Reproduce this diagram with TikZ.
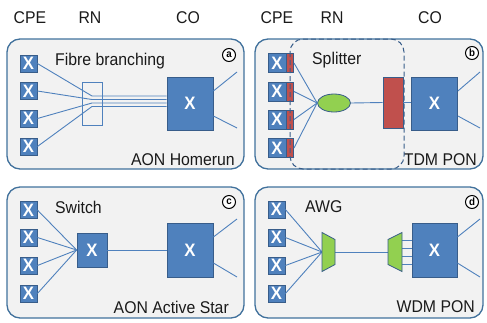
\documentclass[tikz,border=0pt]{standalone}
\usepackage{fontspec}
\setmainfont{Liberation Sans}[FakeStretch=0.93]
\usetikzlibrary{shapes.geometric}
\definecolor{panelbg}{HTML}{F2F2F2}
\definecolor{panelline}{HTML}{41719C}
\definecolor{boxblue}{HTML}{4F81BD}
\definecolor{boxline}{HTML}{385D8A}
\definecolor{redbox}{HTML}{C0504D}
\definecolor{greenfill}{HTML}{92D050}
\definecolor{txt}{HTML}{1A1A1A}
\tikzset{
  panel/.style={draw=panelline, fill=panelbg, line width=1.3pt, rounded corners=13pt},
  cpe/.style={draw=boxline, fill=boxblue, minimum width=17pt, minimum height=17pt, inner sep=0pt,
    text=white, font=\bfseries\fontsize{18}{18}\selectfont, line width=0.8pt},
  cpeb/.style={cpe, minimum width=18pt, minimum height=19pt},
  redsmall/.style={draw=boxline, fill=redbox, minimum width=7pt, minimum height=19pt, inner sep=0pt, line width=0.6pt},
  cobox/.style={cpe, minimum width=46pt, minimum height=53pt},
  link/.style={draw=boxblue, line width=0.9pt},
  lbl/.style={font=\fontsize{17}{20}\selectfont, text=txt, inner sep=0pt},
  tag/.style={circle, draw=black, line width=1pt, fill=white, minimum size=13pt, inner sep=0pt,
    font=\bfseries\fontsize{10.5}{10.5}\selectfont},
  greenshape/.style={draw=boxline, fill=greenfill, line width=0.8pt}
}
\begin{document}
\begin{tikzpicture}[x=1pt,y=-1pt]
\useasboundingbox (0,0) rectangle (487,322);
% headers
\node[lbl] (hcpe1) at (30,18) {CPE};
\node[lbl] (hrn1) at (90,18) {RN};
\node[lbl] (hco1) at (188,18) {CO};
\node[lbl] (hcpe2) at (277,18) {CPE};
\node[lbl] (hrn2) at (332,18) {RN};
\node[lbl] (hco2) at (430,18) {CO};
% panels
\draw[panel] (7,39) rectangle (244,169);
\draw[panel] (255,39) rectangle (483,169);
\draw[panel] (7,187) rectangle (244,318);
\draw[panel] (255,187) rectangle (483,318);

% ---------- panel a ----------
\node[cpe] (a1) at (28.5,63.5) {X};
\node[cpe] (a2) at (28.5,91) {X};
\node[cpe] (a3) at (28.5,118.5) {X};
\node[cpe] (a4) at (28.5,146.5) {X};
\node[draw=boxblue, line width=0.8pt, minimum width=20pt, minimum height=43pt, inner sep=0pt] (fb) at (92,103.5) {};
\node[cobox] (aco) at (190,103.5) {X};
\coordinate (f1) at (92,96);
\coordinate (f2) at (92,99.5);
\coordinate (f3) at (92,103);
\coordinate (f4) at (92,106.5);
\foreach \i in {1,...,4}{\draw[link] (a\i.east) -- (f\i) -- (f\i -| aco.west);}
\coordinate (ao1) at (237,72);
\coordinate (ao2) at (237,128);
\draw[link] ([yshift=12.5pt]aco.east) -- (ao1);
\draw[link] ([yshift=-12.5pt]aco.east) -- (ao2);
\node[lbl, anchor=west] (fbt) at (55,61) {Fibre branching};
\node[lbl, anchor=east] (aont) at (235,160) {AON Homerun};
\node[tag] (ta) at (229,55) {a};

% ---------- panel b ----------
\foreach \i/\y in {1/63, 2/91.5, 3/119.5, 4/148}{
  \node[cpeb] (b\i) at (277,\y) {X};
  \node[redsmall, anchor=west] (br\i) at (b\i.east) {};
}
\node[ellipse, draw=boxline, fill=greenfill, line width=0.8pt, minimum width=33pt, minimum height=18pt, inner sep=0pt] (spl) at (334,103) {};
\foreach \i in {1,...,4}{\draw[link] (br\i.east) -- (spl.west);}
\node[draw=boxline, fill=redbox, line width=0.8pt, minimum width=20pt, minimum height=51pt, inner sep=0pt] (bolt) at (393,102.5) {};
\node[cobox] (bco) at (434.5,103.5) {X};
\draw[link] (spl.east) -- (bolt.west);
\draw[link] (bolt.east) -- (bolt.east -| bco.west);
\coordinate (bo1) at (480,72);
\coordinate (bo2) at (480,128);
\draw[link] ([yshift=12.5pt]bco.east) -- (bo1);
\draw[link] ([yshift=-12.5pt]bco.east) -- (bo2);
\node[lbl, anchor=west] (splt) at (312,60) {Splitter};
\node[lbl, anchor=east] (tdmt) at (477,160) {TDM PON};
\node[tag] (tb) at (472,53) {b};
\draw[draw=boxline, line width=1pt, dash pattern=on 5pt off 3pt, rounded corners=13pt] (290,39) rectangle (404,169);

% ---------- panel c ----------
\foreach \i/\y in {1/210, 2/237.5, 3/265.5, 4/293.5}{
  \node[cpe] (c\i) at (28.5,\y) {X};
}
\node[cpe, minimum width=30pt, minimum height=34pt] (sw) at (92,250) {X};
\foreach \i in {1,...,4}{\draw[link] (c\i.east) -- (sw.west);}
\node[cobox, minimum height=54pt] (cco) at (190,250) {X};
\draw[link] (sw.east) -- (cco.west);
\coordinate (co1) at (237,219);
\coordinate (co2) at (237,277);
\draw[link] ([yshift=13pt]cco.east) -- (co1);
\draw[link] ([yshift=-13pt]cco.east) -- (co2);
\node[lbl, anchor=west] (swt) at (55,207) {Switch};
\node[lbl, anchor=east] (aast) at (229,307) {AON Active Star};
\node[tag] (tc) at (229,202) {c};

% ---------- panel d ----------
\foreach \i/\y in {1/209.5, 2/237.5, 3/265.5, 4/293.5}{
  \node[cpe] (d\i) at (276.5,\y) {X};
}
\node[cobox, minimum width=45pt, minimum height=54pt] (dco) at (434.5,250) {X};
\coordinate (t1w) at (322,252);
\coordinate (t1e) at (335,252);
\coordinate (t2w) at (388,252);
\coordinate (t2e) at (402,252);
\foreach \i in {1,...,4}{\draw[link] (d\i.east) -- (t1w);}
\draw[link] (t1e) -- (t2w);
\foreach \o in {-12,-4,4,12}{\draw[link] ([yshift=\o pt]t2e) -- ([yshift=\o pt]t2e -| dco.west);}
\draw[greenshape] (322,232.5) -- (335,239.5) -- (335,264.5) -- (322,271.5) -- cycle;
\draw[greenshape] (388,239.5) -- (402,232.5) -- (402,271.5) -- (388,264.5) -- cycle;
\coordinate (do1) at (480,219);
\coordinate (do2) at (480,277);
\draw[link] ([yshift=13pt]dco.east) -- (do1);
\draw[link] ([yshift=-13pt]dco.east) -- (do2);
\node[lbl, anchor=west] (awgt) at (305,207) {AWG};
\node[lbl, anchor=east] (wdmt) at (475,307) {WDM PON};
\node[tag] (td) at (472,202) {d};
\end{tikzpicture}
\end{document}
